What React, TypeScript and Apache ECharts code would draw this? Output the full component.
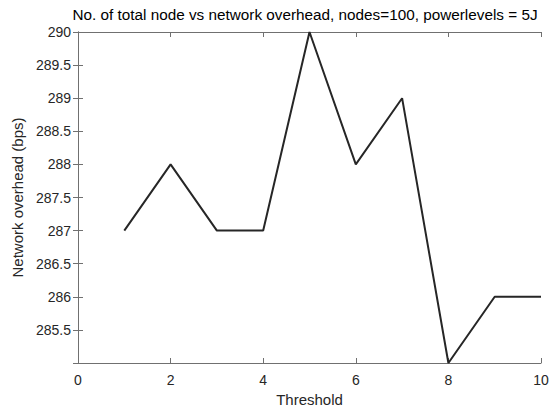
import React, { useEffect, useRef } from "react";
import * as echarts from "echarts";

const thresholds = [1, 2, 3, 4, 5, 6, 7, 8, 9, 10];
const overhead = [287, 288, 287, 287, 290, 288, 289, 285, 286, 286];
const titleText = "No. of total node vs network overhead, nodes=100, powerlevels = 5J";
const xName = "Threshold";
const yName = "Network overhead (bps)";

export default function App() {
  const ref = useRef<HTMLDivElement>(null);
  useEffect(() => {
    if (!ref.current) return;
    const chart = echarts.init(ref.current, null, { renderer: "svg" });
    const textColor = "#262626";
    const axisColor = "#707070";
    const font = "Arial, 'Liberation Sans', sans-serif";
    const boxAxis = {
      axisLine: { show: true, lineStyle: { color: axisColor, width: 1 } },
      axisTick: { show: true, inside: true, length: 5, lineStyle: { color: axisColor } },
      axisLabel: { show: false },
      splitLine: { show: false },
    };
    chart.setOption({
      animation: false,
      backgroundColor: "#ffffff",
      title: {
        text: titleText,
        left: 300,
        textAlign: "center",
        top: 2,
        textStyle: { fontSize: 15.3, fontWeight: "normal", color: "#000", fontFamily: font },
      },
      grid: { left: 78, right: 13, top: 32, bottom: 47, containLabel: false },
      xAxis: [
        {
          type: "value",
          min: 0,
          max: 10,
          interval: 2,
          position: "bottom",
          name: xName,
          nameLocation: "middle",
          nameGap: 29,
          nameTextStyle: { fontSize: 15, color: textColor, fontFamily: font },
          axisLine: { show: true, onZero: false, lineStyle: { color: axisColor } },
          axisTick: { show: true, inside: true, length: 5, lineStyle: { color: axisColor } },
          axisLabel: { fontSize: 14, color: textColor, fontFamily: font, margin: 10 },
          splitLine: { show: false },
        },
        { type: "value", min: 0, max: 10, interval: 2, position: "top", ...boxAxis },
      ],
      yAxis: [
        {
          type: "value",
          min: 285,
          max: 290,
          interval: 0.5,
          position: "left",
          name: yName,
          nameLocation: "middle",
          nameGap: 50,
          nameTextStyle: { fontSize: 15, color: textColor, fontFamily: font },
          axisLine: { show: true, onZero: false, lineStyle: { color: axisColor } },
          axisTick: { show: true, inside: true, length: 5, lineStyle: { color: axisColor } },
          axisLabel: {
            fontSize: 14,
            color: textColor,
            fontFamily: font,
            margin: 7,
            formatter: (v: number) => (v === 285 ? "" : String(v)),
          },
          splitLine: { show: false },
        },
        { type: "value", min: 285, max: 290, interval: 0.5, position: "right", ...boxAxis },
      ],
      series: [
        {
          type: "line",
          data: thresholds.map((x, i) => [x, overhead[i]]),
          showSymbol: false,
          symbol: "none",
          lineStyle: { color: "#262626", width: 2 },
          clip: false,
        },
      ],
    });
    return () => chart.dispose();
  }, []);
  return <div ref={ref} style={{ width: 554, height: 412, position: "absolute", left: 0, top: 0 }} />;
}
